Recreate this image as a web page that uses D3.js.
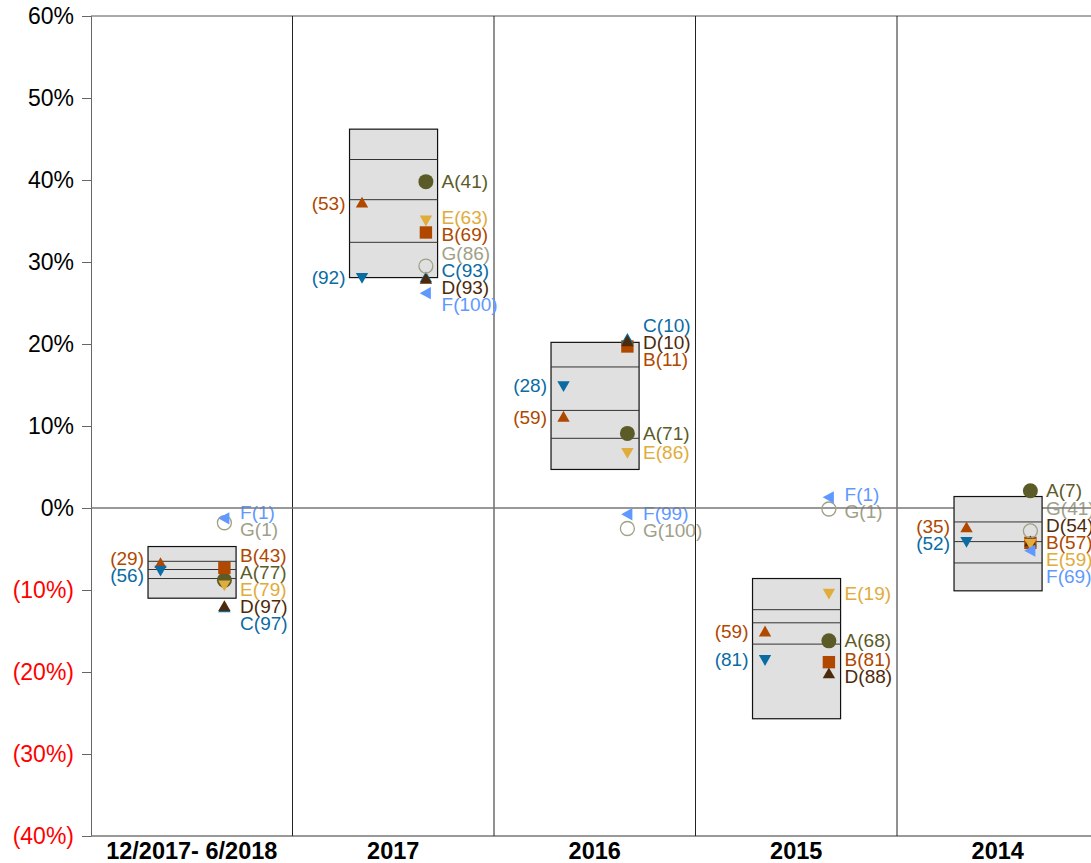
<!DOCTYPE html>
<html>
<head>
<meta charset="utf-8">
<script src="https://cdn.jsdelivr.net/npm/d3@7"></script>
<style>
  html, body { margin: 0; padding: 0; overflow: hidden; background: #fff; }
  svg { display: block; font-family: "Liberation Sans", Arial, sans-serif; }
</style>
</head>
<body>
<svg id="chart"></svg>
<script>
// Periods shown as panels, left to right
const periods = ["12/2017- 6/2018", "2017", "2016", "2015", "2014"];

// Y axis ticks (percent)
const yTicks = [-40, -30, -20, -10, 0, 10, 20, 30, 40, 50, 60];

// Grey range boxes per period (percent): outer edges and inner lines
const bandMax   = [-4.7, 46.2, 20.2,  -8.6,  1.4];
const bandUpper = [-6.5, 42.5, 17.2, -12.4, -1.7];
const bandMid   = [-7.5, 37.6, 11.9, -14.0, -4.1];
const bandLower = [-8.6, 32.4,  8.5, -16.6, -6.7];
const bandMin   = [-11.0, 28.1, 4.7, -25.7, -10.1];

// Right-column series: returns (percent) and ranks shown in labels
const aValues = [-8.8, 39.8, 9.1, -16.2, 2.1];
const aRanks  = [77, 41, 71, 68, 7];
const bValues = [-7.3, 33.6, 19.7, -18.8, -4.25];
const bRanks  = [43, 69, 11, 81, 57];
const cValues = [-12.15, 28.1, 20.6, null, null];
const cRanks  = [97, 93, 10, null, null];
const dValues = [-12.0, 27.9, 20.3, -20.2, -4.1];
const dRanks  = [97, 93, 10, 88, 54];
const eValues = [-9.4, 35.1, 6.75, -10.4, -4.35];
const eRanks  = [79, 63, 86, 19, 59];
const fValues = [-1.26, 26.2, -0.77, 1.3, -5.2];
const fRanks  = [1, 100, 99, 1, 69];
const gValues = [-1.8, 29.5, -2.5, -0.12, -2.8];
const gRanks  = [1, 86, 100, 1, 41];

// Left-column series (values and ranks)
const bLeftValues = [-6.75, 37.2, 11.1, -15.1, -2.4];
const bLeftRanks  = [29, 53, 59, 59, 35];
const cLeftValues = [-7.6, 28.1, 14.9, -18.5, -4.1];
const cLeftRanks  = [56, 92, 28, 81, 52];

const colors = {
  A: "#5b5b28", B: "#b04800", C: "#0b6ba3", D: "#4d2a0a",
  E: "#e0ac3c", F: "#5f99ff", G: "#a0a088"
};

// Right-column series in drawing order (later drawn on top)
const rightSeries = [
  { key: "A", shape: "circle", values: aValues, ranks: aRanks },
  { key: "B", shape: "square", values: bValues, ranks: bRanks },
  { key: "C", shape: "up",     values: cValues, ranks: cRanks },
  { key: "D", shape: "up",     values: dValues, ranks: dRanks },
  { key: "E", shape: "down",   values: eValues, ranks: eRanks },
  { key: "G", shape: "open",   values: gValues, ranks: gRanks },
  { key: "F", shape: "left",   values: fValues, ranks: fRanks }
];
const leftSeries = [
  { key: "B", shape: "up",   values: bLeftValues, ranks: bLeftRanks },
  { key: "C", shape: "down", values: cLeftValues, ranks: cLeftRanks }
];

const W = 1100, H = 863;
const margin = { top: 16, left: 91, bottom: 27 };
const svg = d3.select("#chart").attr("width", W).attr("height", H);

const x = d3.scaleBand().domain(periods).range([margin.left, 1098.5]).padding(0);
const y = d3.scaleLinear().domain([-40, 60]).range([H - margin.bottom, margin.top]);
const bw = x.bandwidth();

// Horizontal placement inside each panel, as fractions of the panel width
const boxL = 0.283, boxR = 0.72, colL = 0.345, colR = 0.662;
const labelGap = 17;
const labelSize = 19;

const fmtPct = v => v < 0 ? `(${Math.abs(v)}%)` : `${v}%`;

// Symbol paths
function symbolPath(shape) {
  const s = 6.2;
  switch (shape) {
    case "up":   return `M0,${-s}L${s},${s * 0.75}L${-s},${s * 0.75}Z`;
    case "down": return `M0,${s}L${s},${-s * 0.75}L${-s},${-s * 0.75}Z`;
    case "left": return `M${-s},0L${s * 0.8},${-s}L${s * 0.8},${s}Z`;
    case "square": return `M-6.2,-6.2H6.2V6.2H-6.2Z`;
    default: return null;
  }
}

// Spread labels vertically so they don't overlap: overlapping labels are
// grouped and each group is centered on the mean of its anchors.
function spreadLabels(items) {
  items.sort((a, b) => a.y - b.y);
  let groups = items.map(d => ({ items: [d] }));
  const place = g => {
    const mean = d3.mean(g.items, d => d.y);
    const n = g.items.length;
    g.top = mean - (n - 1) * labelGap / 2;
    g.bottom = g.top + (n - 1) * labelGap;
  };
  groups.forEach(place);
  let merged = true;
  while (merged) {
    merged = false;
    for (let i = 0; i < groups.length - 1; i++) {
      if (groups[i + 1].top - groups[i].bottom < labelGap) {
        groups[i].items = groups[i].items.concat(groups[i + 1].items);
        groups.splice(i + 1, 1);
        place(groups[i]);
        merged = true;
        break;
      }
    }
  }
  groups.forEach(g => g.items.forEach((d, k) => { d.ly = g.top + k * labelGap; }));
  return items;
}

// Y axis
const yAxis = d3.axisLeft(y).tickValues(yTicks).tickSize(9).tickPadding(8).tickFormat(fmtPct);
const gy = svg.append("g").attr("transform", `translate(${margin.left},0)`).call(yAxis);
gy.select(".domain").attr("stroke", "#666");
gy.selectAll(".tick line").attr("stroke", "#666");
gy.selectAll(".tick text")
  .attr("font-size", 23)
  .attr("font-family", '"Liberation Sans", Arial, sans-serif')
  .attr("fill", d => d < 0 ? "#ff0000" : "#000");

// Frame: top line, bottom axis line
svg.append("line").attr("x1", margin.left).attr("x2", W).attr("y1", y(60)).attr("y2", y(60))
  .attr("stroke", "#555").attr("stroke-width", 1);
svg.append("line").attr("x1", margin.left).attr("x2", W).attr("y1", y(-40)).attr("y2", y(-40))
  .attr("stroke", "#777").attr("stroke-width", 1.5);

// Panel separators
svg.append("g").selectAll("line").data(periods).join("line")
  .attr("x1", d => x(d) + bw).attr("x2", d => x(d) + bw)
  .attr("y1", y(60)).attr("y2", y(-40))
  .attr("stroke", "#222").attr("stroke-width", 1);

// Period labels
svg.append("g").selectAll("text").data(periods).join("text")
  .attr("x", d => x(d) + bw / 2).attr("y", y(-40) + 23)
  .attr("text-anchor", "middle").attr("font-weight", "bold").attr("font-size", 23.5)
  .text(d => d);

// Value labels (drawn beneath the zero line)
const labelLayer = svg.append("g");
periods.forEach((p, i) => {
  const right = rightSeries.filter(s => s.values[i] != null).map(s => ({
    y: y(s.values[i]), text: `${s.key}(${s.ranks[i]})`, color: colors[s.key]
  }));
  spreadLabels(right);
  labelLayer.append("g").selectAll("text").data(right).join("text")
    .attr("x", x(p) + bw * boxR + 4).attr("y", d => d.ly).attr("dy", "0.35em")
    .attr("font-size", labelSize).attr("fill", d => d.color).text(d => d.text);

  const left = leftSeries.map(s => ({
    y: y(s.values[i]), text: `(${s.ranks[i]})`, color: colors[s.key]
  }));
  spreadLabels(left);
  labelLayer.append("g").selectAll("text").data(left).join("text")
    .attr("x", x(p) + bw * boxL - 4).attr("y", d => d.ly).attr("dy", "0.35em")
    .attr("text-anchor", "end")
    .attr("font-size", labelSize).attr("fill", d => d.color).text(d => d.text);
});

// Zero line
svg.append("line").attr("x1", margin.left).attr("x2", W).attr("y1", y(0)).attr("y2", y(0))
  .attr("stroke", "#777").attr("stroke-width", 1.5);

// Range boxes
const boxes = svg.append("g");
periods.forEach((p, i) => {
  const x0 = x(p) + bw * boxL, x1 = x(p) + bw * boxR;
  boxes.append("rect")
    .attr("x", x0).attr("y", y(bandMax[i]))
    .attr("width", x1 - x0).attr("height", y(bandMin[i]) - y(bandMax[i]))
    .attr("fill", "#e0e0e0").attr("stroke", "#111").attr("stroke-width", 1.2);
  [bandUpper[i], bandMid[i], bandLower[i]].forEach(v => {
    boxes.append("line").attr("x1", x0).attr("x2", x1).attr("y1", y(v)).attr("y2", y(v))
      .attr("stroke", "#333").attr("stroke-width", 1);
  });
});

// Markers
const marks = svg.append("g");
function drawMarker(cx, cy, shape, color) {
  if (shape === "circle") {
    marks.append("circle").attr("cx", cx).attr("cy", cy).attr("r", 7.5).attr("fill", color);
  } else if (shape === "open") {
    marks.append("circle").attr("cx", cx).attr("cy", cy).attr("r", 7)
      .attr("fill", "none").attr("stroke", color).attr("stroke-width", 1.3);
  } else {
    marks.append("path").attr("transform", `translate(${cx},${cy})`)
      .attr("d", symbolPath(shape)).attr("fill", color);
  }
}
periods.forEach((p, i) => {
  leftSeries.forEach(s => drawMarker(x(p) + bw * colL, y(s.values[i]), s.shape, colors[s.key]));
  rightSeries.forEach(s => {
    if (s.values[i] == null) return;
    drawMarker(x(p) + bw * colR, y(s.values[i]), s.shape, colors[s.key]);
  });
});
</script>
</body>
</html>
